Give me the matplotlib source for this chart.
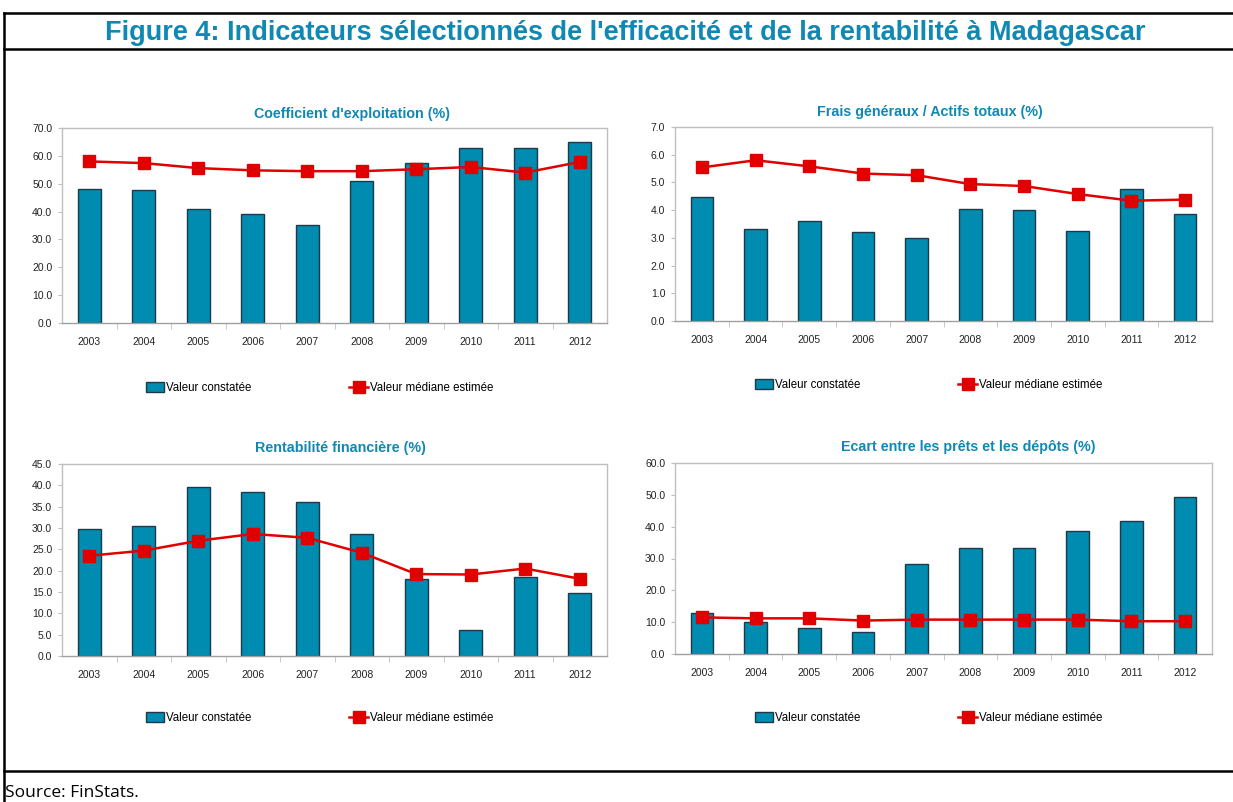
import numpy as np
import matplotlib
matplotlib.use("Agg")
import matplotlib.pyplot as plt
from matplotlib.lines import Line2D
from matplotlib.patches import Patch

plt.rcParams['font.family'] = ['Liberation Sans', 'DejaVu Sans']

years = ['2003', '2004', '2005', '2006', '2007', '2008', '2009', '2010', '2011', '2012']

# Coefficient d'exploitation (%)
coef_obs = [48.2, 47.6, 41.0, 39.3, 35.0, 51.0, 57.6, 62.8, 62.8, 64.9]
coef_med = [58.0, 57.4, 55.6, 54.8, 54.5, 54.5, 55.2, 56.0, 54.0, 57.8]

# Frais generaux / Actifs totaux (%)
frais_obs = [4.48, 3.33, 3.60, 3.20, 3.01, 4.03, 3.99, 3.24, 4.75, 3.86]
frais_med = [5.54, 5.80, 5.58, 5.32, 5.26, 4.94, 4.87, 4.58, 4.34, 4.38]

# Rentabilite financiere (%)
rent_obs = [29.8, 30.4, 39.7, 38.4, 36.2, 28.7, 18.1, 6.0, 18.4, 14.7]
rent_med = [23.5, 24.7, 27.0, 28.6, 27.7, 24.2, 19.2, 19.1, 20.5, 18.1]

# Ecart entre les prets et les depots (%)
ecart_obs = [12.8, 10.1, 8.2, 7.0, 28.3, 33.4, 33.4, 38.6, 41.7, 49.3]
ecart_med = [11.5, 11.2, 11.2, 10.5, 10.8, 10.8, 10.8, 10.8, 10.3, 10.3]

panels = [
    ("Coefficient d'exploitation (%)", coef_obs, coef_med, 70.0, 10.0),
    ("Frais généraux / Actifs totaux (%)", frais_obs, frais_med, 7.0, 1.0),
    ("Rentabilité financière (%)", rent_obs, rent_med, 45.0, 5.0),
    ("Ecart entre les prêts et les dépôts (%)", ecart_obs, ecart_med, 60.0, 10.0),
]

W, H = 1233, 802
BAR = '#008BB0'
EDGE = '#1E3A48'
RED = '#E00000'
TEAL = '#1088B4'
GRID = '#BFBFBF'

fig = plt.figure(figsize=(W / 100, H / 100), dpi=100)


def rect(left, right, top, bottom):
    return [left / W, 1 - bottom / H, (right - left) / W, (bottom - top) / H]


# pixel boxes: (left, right, top, bottom, title_x, title_y, legend_y)
boxes = [
    (62, 607, 128, 323, 352, 114, 388),
    (675, 1212, 127, 321, 930, 112, 385),
    (62, 607, 464, 656, 340, 448, 718),
    (675, 1212, 463, 654, 968, 447, 718),
]

x = np.arange(len(years))
for (title, obs, med, ymax, step), (l, r, t, b, tx, ty, ly) in zip(panels, boxes):
    ax = fig.add_axes(rect(l, r, t, b))
    ax.bar(x, obs, width=0.42, color=BAR, edgecolor=EDGE, linewidth=1.0, zorder=2)
    ax.plot(x, med, color=RED, linewidth=1.8, marker='s', markersize=8,
            markerfacecolor=RED, markeredgecolor=RED, zorder=3)
    ax.set_xlim(-0.5, len(years) - 0.5)
    ax.set_ylim(0, ymax)
    ticks = np.arange(0, ymax + step / 2, step)
    ax.set_yticks(ticks)
    ax.set_yticklabels([f"{v:.1f}" for v in ticks])
    ax.set_xticks(x)
    ax.set_xticklabels(years)
    ax.set_xticks(np.arange(0.5, len(years) - 0.5, 1.0), minor=True)
    ax.tick_params(axis='x', which='major', length=0, pad=10, labelsize=7.5, colors='#222222')
    ax.tick_params(axis='x', which='minor', length=4, color=GRID, direction='out')
    ax.tick_params(axis='y', length=3, color=GRID, labelsize=7.5, labelcolor='#222222', pad=4)
    for s in ax.spines.values():
        s.set_color(GRID)
        s.set_linewidth(1.0)
    ax.spines['bottom'].set_color('#A0A0A0')
    ax.set_axisbelow(True)

    fig.text(tx / W, 1 - ty / H, title, ha='center', va='center', color=TEAL,
             fontsize=10.3, fontweight='bold')

    cx = (l + r) / 2
    handles = [Patch(facecolor=BAR, edgecolor=EDGE, linewidth=1.0),
               Line2D([0], [0], color=RED, linewidth=1.8, marker='s', markersize=8)]
    fig.legend(handles, ['Valeur constatée', 'Valeur médiane estimée'],
               loc='center', bbox_to_anchor=((cx - 15) / W, 1 - ly / H), ncol=2,
               frameon=False, fontsize=8.3, handlelength=1.6, handleheight=0.9,
               handletextpad=0.15, columnspacing=8.5)

# main title and frame
fig.text(625 / W, 1 - 33 / H,
         "Figure 4: Indicateurs sélectionnés de l'efficacité et de la rentabilité à Madagascar",
         ha='center', va='center', color=TEAL, fontsize=19.5, fontweight='bold')

for yy in (13, 49, 771):
    fig.add_artist(Line2D([4 / W, 1.0], [1 - yy / H, 1 - yy / H], color='black', linewidth=1.8))
fig.add_artist(Line2D([4 / W, 4 / W], [1 - 13 / H, 0.0], color='black', linewidth=1.8))

fig.text(5 / W, 1 - 793 / H, "Source: FinStats.", ha='left', va='center',
         fontsize=12.5, color='black', family=['Open Sans', 'DejaVu Sans'])

fig.savefig('out.png', dpi=100)
